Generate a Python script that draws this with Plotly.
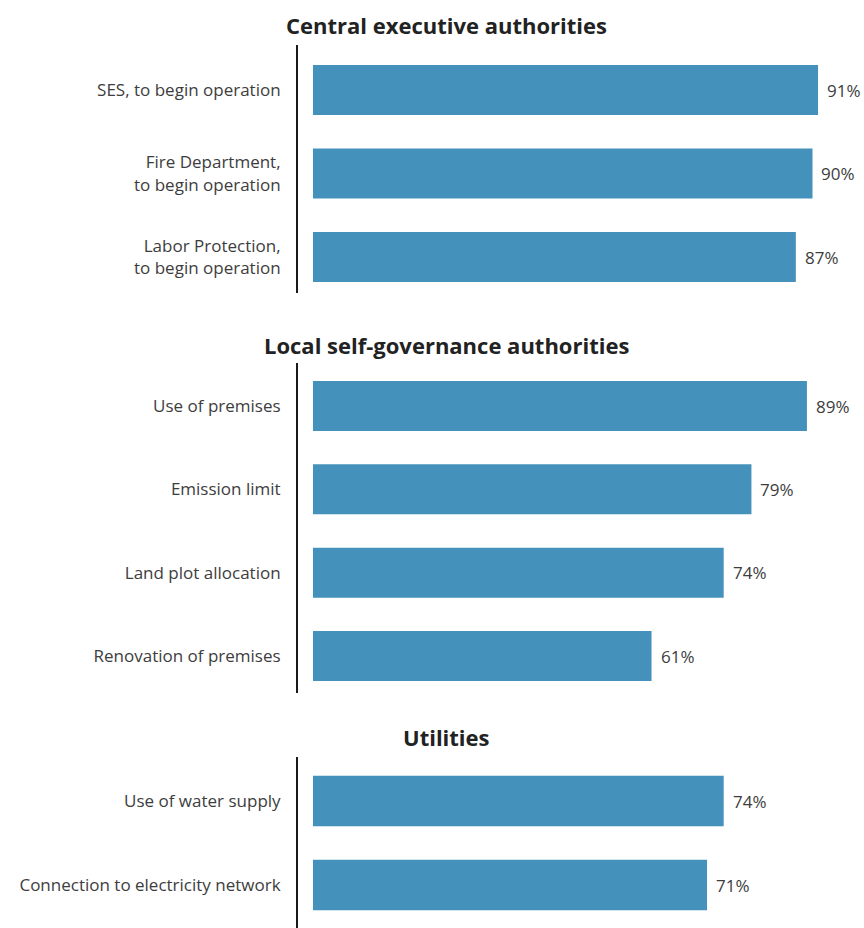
import plotly.graph_objects as go
from plotly.subplots import make_subplots

# Share of respondents per permit type, grouped by issuing authority
group_titles = ["Central executive authorities", "Local self-governance authorities", "Utilities"]

central_labels = ["SES, to begin operation",
                  "Fire Department,<br>to begin operation",
                  "Labor Protection,<br>to begin operation"]
central_values = [91, 90, 87]

local_labels = ["Use of premises", "Emission limit", "Land plot allocation", "Renovation of premises"]
local_values = [89, 79, 74, 61]

utility_labels = ["Use of water supply", "Connection to electricity network"]
utility_values = [74, 71]

BAR_COLOR = "#4492bb"
TEXT_COLOR = "#3d3d3d"
FONT = "Open Sans"
W, H = 864, 928

groups = [
    (central_labels, central_values),
    (local_labels, local_values),
    (utility_labels, utility_values),
]

# vertical placement of each panel (pixels from top) and its category range
panel_px = [(45, 293), (363, 693), (757, 928)]
panel_yrange = [(2.431, -0.539), (3.444, -0.516), (1.512, -0.524)]
title_px = [25, 345, 737]

fig = make_subplots(rows=3, cols=1)

for i, (labels, values) in enumerate(groups, start=1):
    fig.add_trace(
        go.Bar(
            x=values, y=labels, orientation="h",
            marker=dict(color=BAR_COLOR, line=dict(width=0)),
            width=0.6, showlegend=False, hoverinfo="skip",
        ),
        row=i, col=1,
    )
    xa = "x" if i == 1 else f"x{i}"
    ya = "y" if i == 1 else f"y{i}"
    for lab, v in zip(labels, values):
        fig.add_annotation(
            x=v, y=lab, xref=xa, yref=ya, text=f"{v}%",
            showarrow=False, xanchor="left", yanchor="middle", xshift=7,
            font=dict(family=FONT, size=17, color=TEXT_COLOR),
        )

x_domain = [298 / W, 1.0]
for i in range(1, 4):
    top, bot = panel_px[i - 1]
    fig.update_xaxes(
        row=i, col=1, domain=x_domain, range=[-2.7, 99.28],
        showgrid=False, zeroline=False, showticklabels=False, showline=False,
        fixedrange=True,
    )
    fig.update_yaxes(
        row=i, col=1, domain=[1 - bot / H, 1 - top / H],
        type="category", range=list(panel_yrange[i - 1]),
        showgrid=False, zeroline=False,
        showline=True, linecolor="#1a1a1a", linewidth=2,
        ticks="", ticklabelstandoff=12, automargin=False,
        tickfont=dict(family=FONT, size=17, color=TEXT_COLOR),
    )

for t, ypx in zip(group_titles, title_px):
    fig.add_annotation(
        x=446 / W, y=1 - ypx / H, xref="paper", yref="paper",
        text=f"<b>{t}</b>", showarrow=False, xanchor="center", yanchor="middle",
        font=dict(family=FONT, size=22, color="#222222"),
    )

fig.update_layout(
    width=W, height=H,
    margin=dict(l=0, r=0, t=0, b=0),
    paper_bgcolor="white", plot_bgcolor="white",
    bargap=0.4,
)

fig.write_html("out.html")
